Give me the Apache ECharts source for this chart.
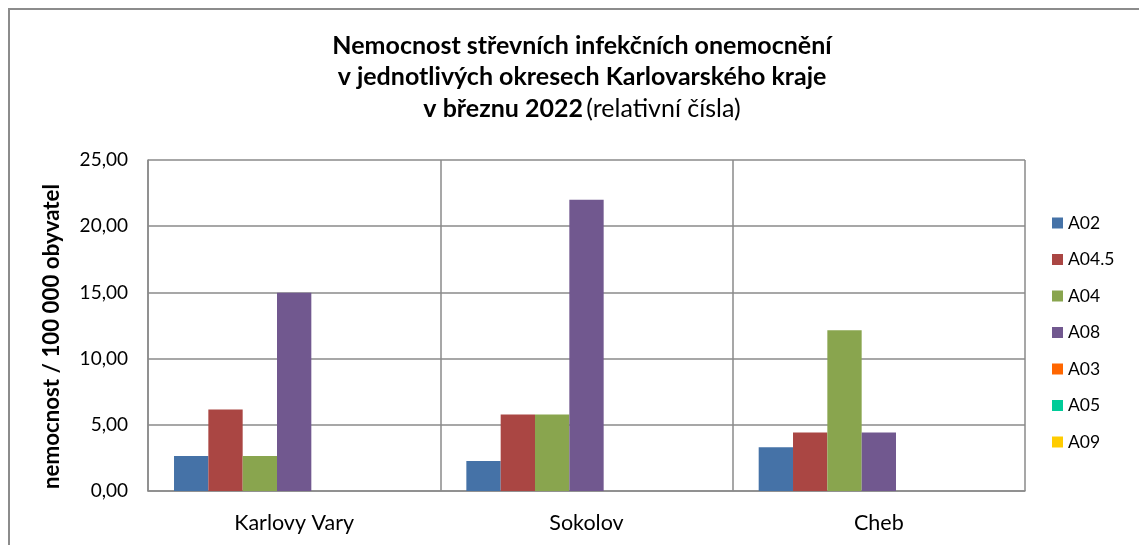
<!DOCTYPE html>
<html>
<head>
<meta charset="utf-8">
<script src="https://cdn.jsdelivr.net/npm/echarts@6/dist/echarts.min.js"></script>
<style>
  html, body { margin: 0; padding: 0; background: #fff; }
  #main { width: 1139px; height: 545px; }
</style>
</head>
<body>
<div id="main"></div>
<script>
  // okresy a hodnoty (nemocnost na 100 000 obyvatel)
  var okresy = ['Karlovy Vary', 'Sokolov', 'Cheb'];
  var nazvyRad = ['A02', 'A04.5', 'A04', 'A08', 'A03', 'A05', 'A09'];
  var barvy = ['#4572A7', '#AA4643', '#89A54E', '#71588F', '#FF6600', '#00CC99', '#FFCC00'];

  var A02 = [2.64, 2.27, 3.30];
  var A04_5 = [6.15, 5.77, 4.41];
  var A04 = [2.64, 5.77, 12.14];
  var A08 = [14.97, 22.00, 4.41];
  var A03 = [0, 0, 0];
  var A05 = [0, 0, 0];
  var A09 = [0, 0, 0];
  var hodnoty = [A02, A04_5, A04, A08, A03, A05, A09];

  var font = 'Lato';
  var myChart = echarts.init(document.getElementById('main'));

  var series = nazvyRad.map(function (n, i) {
    return {
      name: n,
      type: 'bar',
      data: hodnoty[i],
      barGap: '0%',
      barCategoryGap: '17.8%',
      itemStyle: { color: barvy[i] }
    };
  });

  var option = {
    backgroundColor: '#fff',
    animation: false,
    color: barvy,
    graphic: [
      {
        type: 'rect',
        shape: { x: 9, y: 9, width: 1200, height: 600 },
        style: { fill: 'none', stroke: '#8c8c8c', lineWidth: 2 },
        silent: true
      },
      {
        type: 'text',
        x: 582,
        y: 30,
        style: {
          text: '{b|Nemocnost střevních infekčních onemocnění}\n{b|v jednotlivých okresech Karlovarského kraje}\n{b|v březnu 2022} {n|(relativní čísla)}',
          align: 'center',
          verticalAlign: 'top',
          rich: {
            b: { fontFamily: font, fontWeight: 'bold', fontSize: 25, lineHeight: 31.5, fill: '#000' },
            n: { fontFamily: font, fontWeight: 'normal', fontSize: 25, lineHeight: 31.5, fill: '#000' }
          }
        }
      }
    ],
    legend: {
      orient: 'vertical',
      left: 1052,
      top: 214,
      padding: 0,
      itemWidth: 11,
      itemHeight: 11,
      itemGap: 18.5,
      icon: 'rect',
      data: nazvyRad,
      textStyle: { fontFamily: font, fontSize: 17.5, color: '#000' }
    },
    grid: {
      left: 148,
      right: 114,
      top: 160,
      bottom: 54,
      containLabel: false
    },
    xAxis: {
      type: 'category',
      data: okresy,
      axisLine: { show: true, lineStyle: { color: '#8a8a8a', width: 1.5 } },
      axisTick: { show: false },
      splitLine: { show: true, lineStyle: { color: '#8a8a8a', width: 1.5 } },
      axisLabel: { fontFamily: font, fontSize: 21.5, color: '#000', margin: 21 }
    },
    yAxis: {
      type: 'value',
      min: 0,
      max: 25,
      interval: 5,
      name: 'nemocnost / 100 000 obyvatel',
      nameLocation: 'middle',
      nameGap: 85,
      nameTextStyle: { fontFamily: font, fontWeight: 'bold', fontSize: 22.3, color: '#000', padding: [0, 22, 0, 0] },
      axisLine: { show: true, lineStyle: { color: '#8a8a8a', width: 1.5 } },
      axisTick: { show: false },
      splitLine: { show: true, lineStyle: { color: '#8a8a8a', width: 1.5 } },
      axisLabel: {
        fontFamily: font,
        fontSize: 19,
        color: '#000',
        margin: 20,
        formatter: function (v) { return v.toFixed(2).replace('.', ','); }
      }
    },
    series: series
  };

  myChart.setOption(option);
</script>
</body>
</html>
